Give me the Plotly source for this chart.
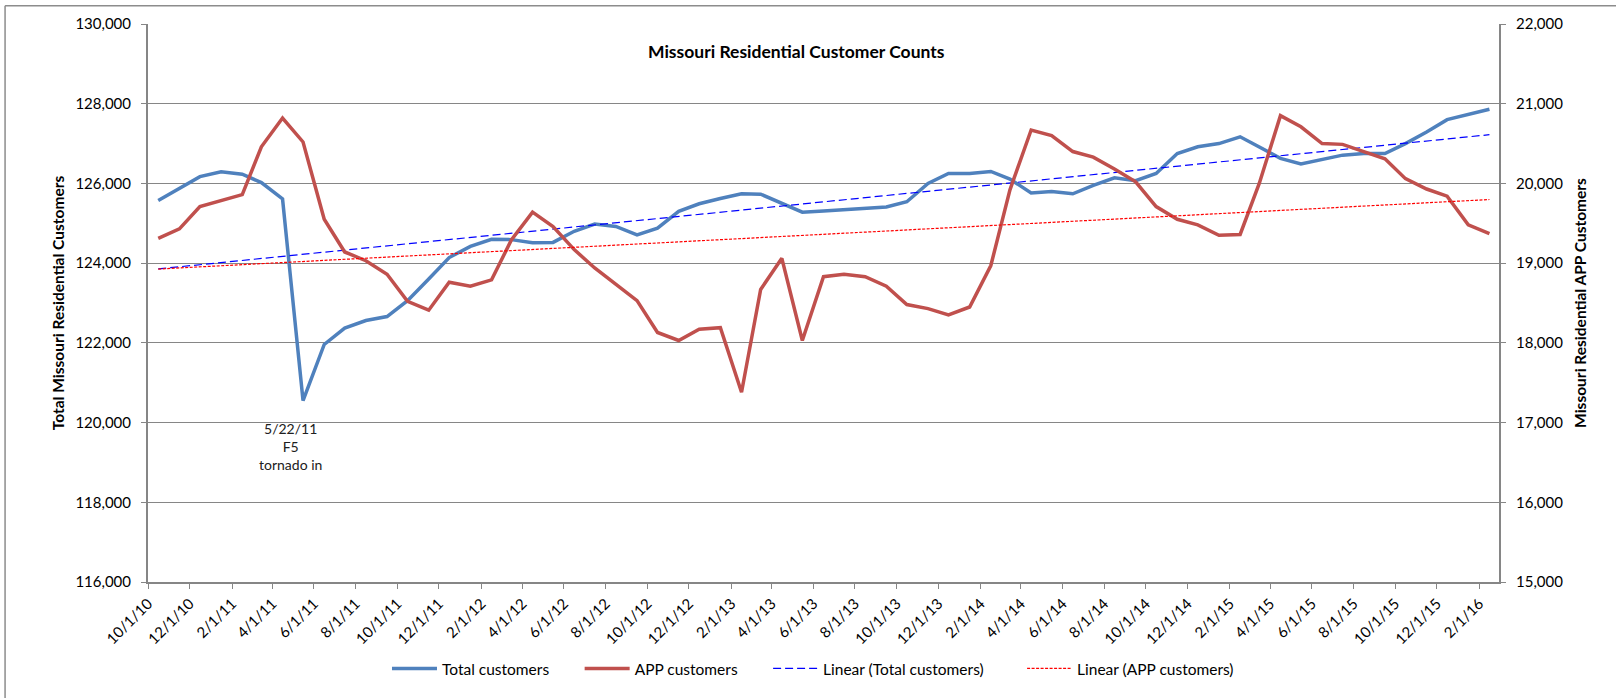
import numpy as np
import pandas as pd
import plotly.graph_objects as go

# ---- data -------------------------------------------------------------
months = pd.date_range("2010-10-01", periods=65, freq="MS")

total_customers = [125570, 125880, 126170, 126290, 126230, 126020, 125610, 120550, 121960, 122370,
                   122560, 122660, 123060, 123600, 124140, 124420, 124600, 124590, 124510, 124520,
                   124800, 124980, 124920, 124710, 124880, 125300, 125490, 125620, 125740, 125730,
                   125490, 125280, 125310, 125340, 125360, 125410, 125540, 126000, 126250, 126250,
                   126300, 126110, 125760, 125800, 125740, 125950, 126140, 126070, 126250, 126750,
                   126920, 127000, 127170, 126920, 126630, 126490, 126600, 126710, 126750, 126750,
                   127000, 127290, 127600, 127720, 127860]

app_customers = [19310, 19430, 19710, 19790, 19860, 20460, 20820, 20520, 19550, 19140,
                 19030, 18860, 18520, 18410, 18760, 18710, 18790, 19290, 19640, 19460,
                 19170, 18940, 18740, 18530, 18130, 18030, 18170, 18190, 17380, 18670,
                 19060, 18030, 18830, 18860, 18830, 18710, 18480, 18430, 18350, 18450,
                 18970, 19920, 20670, 20600, 20400, 20330, 20180, 20020, 19710, 19550,
                 19480, 19350, 19360, 20000, 20850, 20710, 20500, 20490, 20400, 20310,
                 20060, 19930, 19840, 19480, 19370]

series_names = ["Total customers", "APP customers",
                "Linear (Total customers)", "Linear (APP customers)"]
title_text = "Missouri Residential Customer Counts"
left_title = "Total Missouri Residential Customers"
right_title = "Missouri Residential APP Customers"
note_text = "5/22/11<br>F5<br>tornado in"
note_date = "2011-04-27"
note_value = 119400

# ---- derived ----------------------------------------------------------
# points sit in the middle of each month (date axis, "between tick marks")
x_pts = months + pd.Timedelta(days=15)
days = np.array([(d - x_pts[0]).days for d in x_pts], dtype=float)

def linear_trend(vals):
    k, b = np.polyfit(days, np.array(vals, dtype=float), 1)
    return k * days + b

trend_total = linear_trend(total_customers)
trend_app = linear_trend(app_customers)

FONT = "Lato, 'Open Sans', sans-serif"
AX = "#868686"

fig = go.Figure()
fig.add_trace(go.Scatter(x=x_pts, y=total_customers, name=series_names[0], mode="lines",
                         legend="legend", line=dict(color="#4F81BD", width=3.5)))
fig.add_trace(go.Scatter(x=x_pts, y=app_customers, name=series_names[1], mode="lines",
                         yaxis="y2", legend="legend2", line=dict(color="#C0504D", width=3.5)))
fig.add_trace(go.Scatter(x=[x_pts[0], x_pts[-1]], y=[trend_total[0], trend_total[-1]],
                         name=series_names[2], mode="lines", legend="legend3",
                         line=dict(color="#0000FF", width=1.2, dash="8px,4px")))
fig.add_trace(go.Scatter(x=[x_pts[0], x_pts[-1]], y=[trend_app[0], trend_app[-1]],
                         name=series_names[3], mode="lines", yaxis="y2", legend="legend4",
                         line=dict(color="#FF0000", width=1.2, dash="3px,1.5px")))

def leg(xpos):
    return dict(orientation="h", x=xpos, xanchor="left", y=-0.1557, yanchor="middle",
                font=dict(size=15.5), itemwidth=45, bgcolor="rgba(0,0,0,0)")

fig.update_layout(
    width=1616, height=698,
    margin=dict(l=148, r=117, t=24, b=112, pad=0),
    paper_bgcolor="white", plot_bgcolor="white",
    font=dict(family=FONT, size=15, color="#000000"),
    showlegend=True,
    legend=leg(0.1769), legend2=leg(0.3195), legend3=leg(0.4590), legend4=leg(0.6470),
    xaxis=dict(type="date", range=["2010-10-01", "2016-03-01"], tick0="2010-10-01",
               dtick="M2", tickformat="%-m/%-d/%y", tickangle=-45,
               ticks="outside", ticklen=5, tickcolor=AX, showline=True, linecolor=AX,
               linewidth=2, showgrid=False, zeroline=False,
               tickfont=dict(size=15)),
    yaxis=dict(range=[116000, 130000], dtick=2000, tickformat=",", ticks="outside",
               ticklen=5, tickcolor=AX, showline=True, linecolor=AX, linewidth=2,
               showgrid=True, gridcolor=AX, gridwidth=1, zeroline=False,
               ticklabelstandoff=7, tickfont=dict(size=15),
               title=dict(text="<b>" + left_title + "</b>", font=dict(size=15.5), standoff=7)),
    yaxis2=dict(range=[15000, 22000], dtick=1000, tickformat=",", overlaying="y",
                side="right", ticks="outside", ticklen=5, tickcolor=AX, showline=True,
                linecolor=AX, linewidth=2, showgrid=False, zeroline=False,
                ticklabelstandoff=7, tickfont=dict(size=15),
                title=dict(text="<b>" + right_title + "</b>", font=dict(size=15.5), standoff=13)),
    annotations=[
        dict(text="<b>" + title_text + "</b>", xref="paper", yref="paper", x=0.48, y=0.951,
             showarrow=False, font=dict(size=17.5), xanchor="center", yanchor="middle"),
        dict(text=note_text, x=note_date, y=note_value, xref="x", yref="y",
             showarrow=False, font=dict(size=14, color="#202020"), align="center",
             xanchor="center", yanchor="middle"),
    ],
    shapes=[
        dict(type="line", xref="paper", yref="paper", x0=-0.1058, x1=-0.1058, y0=-0.25, y1=1.0325,
             line=dict(color="#8C8C8C", width=1.5)),
        dict(type="line", xref="paper", yref="paper", x0=-0.1058, x1=1.1, y0=1.0325, y1=1.0325,
             line=dict(color="#8C8C8C", width=1.5)),
    ],
)

fig.write_html("out.html", config={"displayModeBar": False},
               post_script="document.body.style.margin='0px';")
